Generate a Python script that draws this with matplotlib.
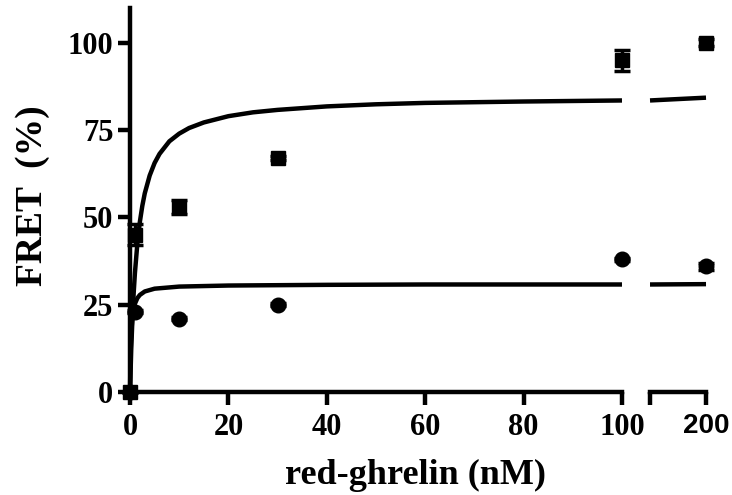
import matplotlib
matplotlib.use("Agg")
import matplotlib.pyplot as plt

# ---------------------------------------------------------------------------
# Data
# ---------------------------------------------------------------------------
conc = [0, 1, 10, 30, 100]
sq_y = [0, 45, 53, 67, 95]
sq_err = [0, 3, 2, 0.5, 3]
ci_y = [0, 23, 21, 25, 38]
ci_err = [0, 0.5, 0.5, 0.5, 0.5]

conc_hi = [200]
sq_y_hi = [100]
sq_err_hi = [1]
ci_y_hi = [36]
ci_err_hi = [1]

# fitted curves
fit_sq_x = [0, 0.25, 0.5, 0.75, 1, 1.5, 2, 2.5, 3, 4, 5, 6, 8, 10, 12, 15,
            20, 25, 30, 40, 50, 60, 80, 100]
fit_sq_y = [0, 12.2, 21.3, 28.4, 34.1, 42.6, 48.7, 53.3, 56.9, 62, 65.6, 68.2,
            71.8, 74, 75.6, 77.2, 79, 80.1, 80.8, 81.8, 82.4, 82.8, 83.2, 83.5]
fit_sq_x_hi = [100, 200]
fit_sq_y_hi = [83.5, 84.3]

fit_ci_x = [0, 0.1, 0.2, 0.3, 0.5, 0.75, 1, 1.5, 2, 3, 5, 10, 20, 40, 60, 100]
fit_ci_y = [0, 9.7, 14.7, 17.8, 21.5, 23.9, 25.3, 26.9, 27.8, 28.8, 29.6,
            30.2, 30.5, 30.7, 30.8, 30.8]
fit_ci_x_hi = [100, 200]
fit_ci_y_hi = [30.8, 30.9]

SERIF = "Liberation Serif"
SANS = "Liberation Sans"
LW = 3.2

fig = plt.figure(figsize=(7.32, 4.95), dpi=100)
ax1 = fig.add_axes([0.1776, 0.208, 0.6721, 0.776])
ax2 = fig.add_axes([0.888, 0.208, 0.0765, 0.776])


def style(ax):
    for sp in ("top", "right"):
        ax.spines[sp].set_visible(False)
    for sp in ("bottom", "left"):
        ax.spines[sp].set_linewidth(LW)
    ax.tick_params(width=LW, length=9, direction="out", pad=3)
    ax.tick_params(axis="x", pad=6)
    ax.set_ylim(0, 110)


style(ax1)
style(ax2)
ax2.spines["left"].set_visible(False)
ax2.tick_params(axis="y", left=False, labelleft=False)

ax1.set_xlim(0, 100)
ax2.set_xlim(100, 200)

# fitted curves
line_kw = dict(color="black", lw=LW, clip_on=False, solid_capstyle="butt",
               solid_joinstyle="round")
ax1.plot(fit_sq_x, fit_sq_y, **line_kw)
ax1.plot(fit_ci_x, fit_ci_y, **line_kw)
ax2.plot(fit_sq_x_hi, fit_sq_y_hi, **line_kw)
ax2.plot(fit_ci_x_hi, fit_ci_y_hi, **line_kw)

# data points
eb = dict(fmt="none", ecolor="black", elinewidth=2.5, capsize=6, capthick=2.5)
ax1.errorbar(conc, sq_y, yerr=sq_err, clip_on=False, **eb)
ax1.errorbar(conc, ci_y, yerr=ci_err, clip_on=False, **eb)
ax2.errorbar(conc_hi, sq_y_hi, yerr=sq_err_hi, clip_on=False, **eb)
ax2.errorbar(conc_hi, ci_y_hi, yerr=ci_err_hi, clip_on=False, **eb)

ax1.plot(conc, sq_y, "s", color="black", ms=10, clip_on=False, zorder=5)
ax1.plot(conc, ci_y, "o", color="black", ms=10.5, clip_on=False, zorder=5)
ax2.plot(conc_hi, sq_y_hi, "s", color="black", ms=10, clip_on=False, zorder=5)
ax2.plot(conc_hi, ci_y_hi, "o", color="black", ms=10.5, clip_on=False, zorder=5)

# ticks
ax1.set_yticks([0, 25, 50, 75, 100])
ax1.set_xticks([0, 20, 40, 60, 80, 100])
for lab in ax1.get_xticklabels() + ax1.get_yticklabels():
    lab.set_fontfamily(SERIF)
    lab.set_fontweight("bold")
    lab.set_fontsize(22)

ax2.set_xticks([100, 200])
ax2.set_xticklabels(["", "200"], fontfamily=SANS, fontweight="bold", fontsize=20)

fig.text(0.567, 0.04, "red-ghrelin (nM)", ha="center", va="center",
         fontfamily=SERIF, fontweight="bold", fontsize=26)
fig.text(0.045, 0.605, "FRET  (%)", ha="center", va="center", rotation=90,
         fontfamily=SERIF, fontweight="bold", fontsize=27)

fig.savefig("out.png", dpi=100)
